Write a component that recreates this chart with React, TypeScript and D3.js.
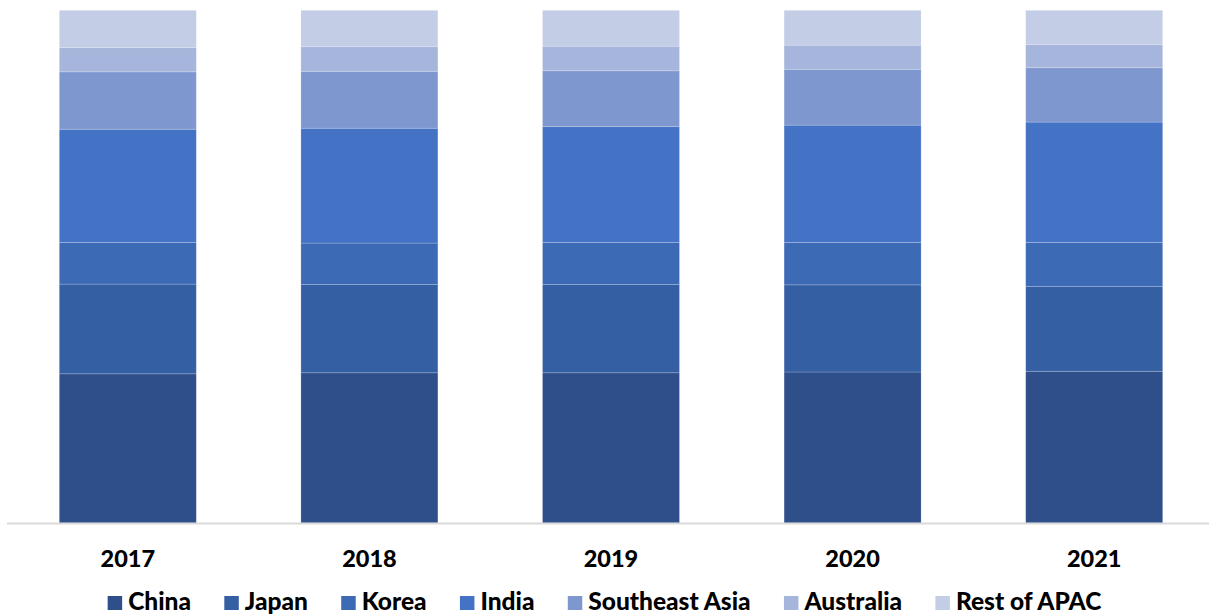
import React, { useEffect, useRef } from "react";
import * as d3 from "d3";

const years = ["2017", "2018", "2019", "2020", "2021"];
const seriesNames = ["China", "Japan", "Korea", "India", "Southeast Asia", "Australia", "Rest of APAC"];
const china = [29.1, 29.3, 29.3, 29.45, 29.6];
const japan = [17.5, 17.2, 17.2, 17.0, 16.5];
const korea = [8.1, 8.1, 8.2, 8.25, 8.6];
const india = [22.1, 22.4, 22.6, 22.9, 23.5];
const southeastAsia = [11.2, 11.1, 10.9, 10.9, 10.6];
const australia = [4.7, 4.8, 4.8, 4.7, 4.5];
const restOfApac = [7.3, 7.1, 7.0, 6.8, 6.7];
const colors = ["#2F4F8A", "#355FA3", "#3C6AB5", "#4473C5", "#7F97CF", "#A6B5DB", "#C3CDE6"];

const W = 1209;
const H = 615;

export default function App() {
  const ref = useRef<SVGSVGElement>(null);
  useEffect(() => {
    const svg = d3.select(ref.current);
    svg.selectAll("*").remove();
    const font = "Lato, 'Open Sans', sans-serif";
    const seriesVals = [china, japan, korea, india, southeastAsia, australia, restOfApac];
    const rows = years.map((y, i) => {
      const r: any = { year: y };
      seriesNames.forEach((s, k) => (r[s] = seriesVals[k][i]));
      return r;
    });
    const stack = d3.stack<any>().keys(seriesNames).offset(d3.stackOffsetExpand)(rows);

    const x = d3.scaleBand().domain(years).range([7, 1215]).paddingInner(0.433).paddingOuter(0.2165);
    const y = d3.scaleLinear().domain([0, 1]).range([523, 10.3]);

    const g = svg.append("g");
    stack.forEach((layer, k) => {
      g.selectAll(null)
        .data(layer)
        .enter()
        .append("rect")
        .attr("x", (d: any) => x(d.data.year)!)
        .attr("width", x.bandwidth())
        .attr("y", (d: any) => y(d[1]))
        .attr("height", (d: any) => y(d[0]) - y(d[1]))
        .attr("fill", colors[k])
        .attr("stroke", "#ffffff")
        .attr("stroke-opacity", 0.25)
        .attr("stroke-width", 0.75);
    });

    svg.append("line")
      .attr("x1", 7).attr("x2", 1209)
      .attr("y1", 523.5).attr("y2", 523.5)
      .attr("stroke", "#D9D9D9").attr("stroke-width", 2);

    svg.selectAll(null)
      .data(years)
      .enter()
      .append("text")
      .attr("x", (d) => x(d)! + x.bandwidth() / 2)
      .attr("y", 566.5)
      .attr("text-anchor", "middle")
      .attr("font-family", font)
      .attr("font-weight", 900)
      .attr("font-size", 23.5)
      .attr("fill", "#000")
      .text((d) => d);

    // legend
    const leg = svg.append("g");
    const items = seriesNames.map((s, k) => {
      const it = leg.append("g");
      it.append("rect").attr("x", 0).attr("y", -14).attr("width", 14.5).attr("height", 14).attr("fill", colors[k]);
      const t = it.append("text")
        .attr("x", 20.5).attr("y", 0)
        .attr("font-family", font)
        .attr("font-weight", 900)
        .attr("font-size", 24.5)
        .attr("fill", "#000")
        .text(s);
      const w = 20.5 + (t.node() as SVGTextElement).getComputedTextLength();
      return { it, w };
    });
    const gap = 33.3;
    const total = d3.sum(items, (d) => d.w) + gap * (items.length - 1);
    let cx = W / 2 - total / 2;
    items.forEach(({ it, w }) => {
      it.attr("transform", `translate(${cx},610)`);
      cx += w + gap;
    });
  }, []);
  return (
    <svg ref={ref} width={W} height={H} style={{ position: "absolute", left: 0, top: 0, background: "#fff" }} />
  );
}
